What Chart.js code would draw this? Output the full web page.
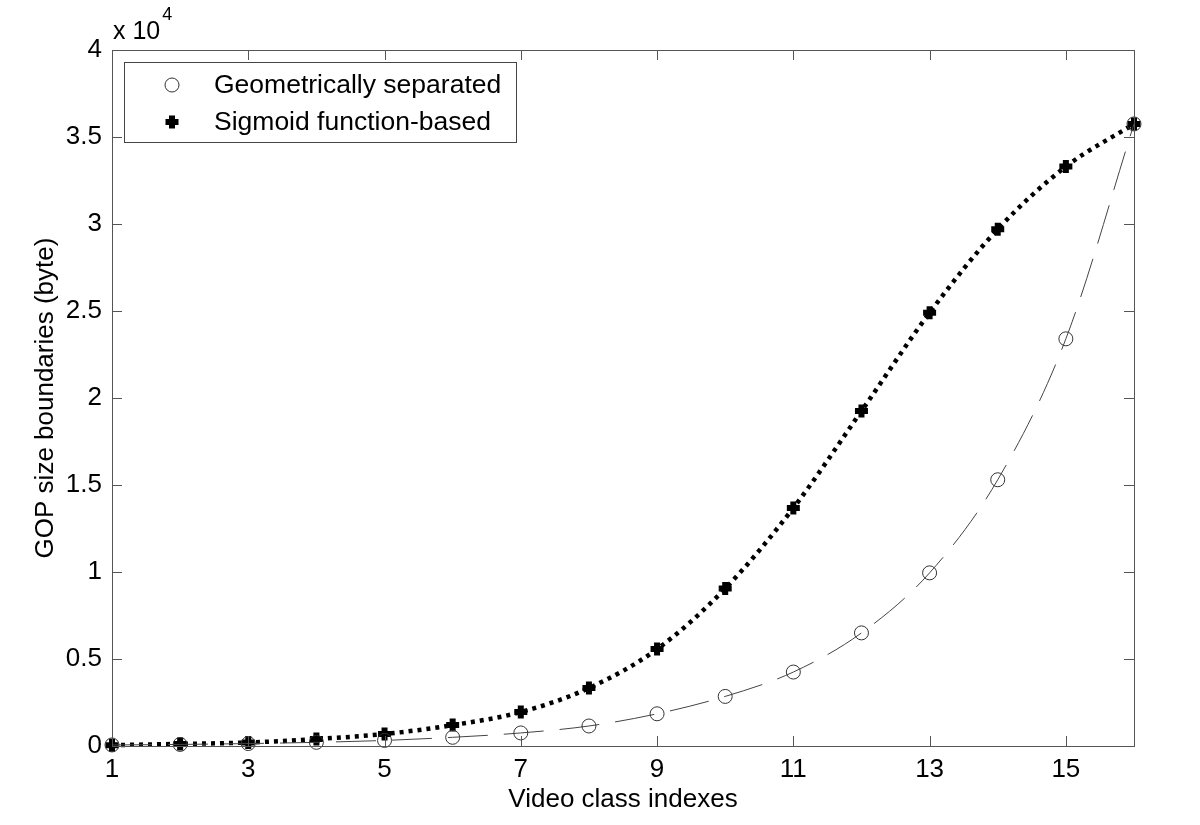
<!DOCTYPE html>
<html>
<head>
<meta charset="utf-8">
<title>GOP size boundaries</title>
<script src="https://cdn.jsdelivr.net/npm/chart.js@4/dist/chart.umd.min.js"></script>
<style>
  html, body { margin: 0; padding: 0; background: #fff; }
  #wrap { width: 1200px; height: 825px; }
</style>
</head>
<body>
<div id="wrap"><canvas id="gopChart" width="1200" height="825"></canvas></div>
<script>
// Video class indexes (x axis)
const classIdx = [1, 2, 3, 4, 5, 6, 7, 8, 9, 10, 11, 12, 13, 14, 15, 16];

// GOP size boundaries in bytes
const geometricVals = [60, 90, 140, 210, 320, 500, 750, 1150, 1850, 2850, 4250, 6500, 9950, 15300, 23400, 35750];
const sigmoidVals = [50, 120, 200, 400, 690, 1200, 1950, 3330, 5570, 9050, 13680, 19250, 24900, 29700, 33300, 35750];

// Tick labels
const xTickVals = [1, 3, 5, 7, 9, 11, 13, 15];
const yTickVals = [0, 5000, 10000, 15000, 20000, 25000, 30000, 35000, 40000];

const seriesNames = ['Geometrically separated', 'Sigmoid function-based'];

const FONT = '"Liberation Sans", Arial, Helvetica, sans-serif';
Chart.defaults.font.family = FONT;
Chart.defaults.font.size = 25;
Chart.defaults.color = '#000';

function toPoints(vals) {
  return classIdx.map((x, i) => ({ x: x, y: vals[i] }));
}

// Box, inward ticks, exponent label and legend, MATLAB style
const matlabFrame = {
  id: 'matlabFrame',
  afterDatasetsDraw(chart) {
    const ctx = chart.ctx;
    const area = chart.chartArea;
    const xs = chart.scales.x;
    const ys = chart.scales.y;
    const tickLen = 10;

    ctx.save();
    ctx.strokeStyle = '#555';
    ctx.lineWidth = 1;
    ctx.beginPath();
    xTickVals.forEach(v => {
      const px = Math.round(xs.getPixelForValue(v)) + 0.5;
      ctx.moveTo(px, area.bottom); ctx.lineTo(px, area.bottom - tickLen);
      ctx.moveTo(px, area.top); ctx.lineTo(px, area.top + tickLen);
    });
    yTickVals.forEach(v => {
      const py = Math.round(ys.getPixelForValue(v)) + 0.5;
      ctx.moveTo(area.left, py); ctx.lineTo(area.left + tickLen, py);
      ctx.moveTo(area.right, py); ctx.lineTo(area.right - tickLen, py);
    });
    ctx.stroke();
    ctx.strokeRect(Math.round(area.left) + 0.5, Math.round(area.top) + 0.5,
      Math.round(area.right - area.left), Math.round(area.bottom - area.top));

    // x 10^4 exponent
    ctx.fillStyle = '#000';
    ctx.textBaseline = 'alphabetic';
    ctx.textAlign = 'left';
    ctx.font = '25px ' + FONT;
    ctx.fillText('x 10', area.left + 1, 39);
    const w = ctx.measureText('x 10').width;
    ctx.font = '18px ' + FONT;
    ctx.fillText('4', area.left + 3 + w, 20);

    // legend
    const lx = 124, ly = 62, lw = 392, lh = 80;
    ctx.fillStyle = '#fff';
    ctx.fillRect(lx, ly, lw, lh);
    ctx.strokeStyle = '#444';
    ctx.strokeRect(lx + 0.5, ly + 0.5, lw, lh);
    chart.data.datasets.forEach((ds, i) => {
      const cy = ly + 23 + i * 37;
      ctx.save();
      ctx.strokeStyle = ds.pointBorderColor;
      ctx.fillStyle = ds.pointBackgroundColor;
      ctx.lineWidth = ds.pointBorderWidth;
      Chart.helpers.drawPoint(ctx, {
        pointStyle: ds.pointStyle,
        radius: ds.pointRadius,
        borderWidth: ds.pointBorderWidth,
        rotation: 0
      }, 172, cy);
      ctx.restore();
      ctx.fillStyle = '#000';
      ctx.font = '26.5px ' + FONT;
      ctx.textBaseline = 'middle';
      ctx.fillText(ds.label, 214, cy + 1);
    });
    ctx.restore();
  }
};

const ctx = document.getElementById('gopChart').getContext('2d');
new Chart(ctx, {
  type: 'line',
  data: {
    datasets: [{
      label: seriesNames[0],
      data: toPoints(geometricVals),
      borderColor: '#444',
      borderWidth: 1,
      borderDash: [40, 16],
      cubicInterpolationMode: 'monotone',
      pointStyle: 'circle',
      pointRadius: 7,
      pointBorderWidth: 1,
      pointBorderColor: '#333',
      pointBackgroundColor: 'rgba(0,0,0,0)',
      clip: false,
      fill: false
    }, {
      label: seriesNames[1],
      data: toPoints(sigmoidVals),
      borderColor: '#000',
      borderWidth: 4.5,
      borderDash: [4, 5],
      cubicInterpolationMode: 'monotone',
      pointStyle: 'cross',
      pointRadius: 6.5,
      pointBorderWidth: 6,
      pointBorderColor: '#000',
      pointBackgroundColor: '#000',
      clip: false,
      fill: false
    }]
  },
  options: {
    responsive: false,
    animation: false,
    events: [],
    layout: { padding: { left: 0, top: 50, right: 66, bottom: 0 } },
    plugins: {
      legend: { display: false },
      tooltip: { enabled: false }
    },
    scales: {
      x: {
        type: 'linear',
        min: 1,
        max: 16,
        afterBuildTicks: scale => { scale.ticks = xTickVals.map(v => ({ value: v })); },
        afterFit: scale => { scale.height = 79; },
        grid: { drawOnChartArea: false, drawTicks: false },
        border: { display: false },
        ticks: { padding: 8, font: { size: 26 }, color: '#000' },
        title: {
          display: true,
          text: 'Video class indexes',
          font: { size: 26 },
          color: '#000',
          padding: { top: 0, bottom: 10 }
        }
      },
      y: {
        type: 'linear',
        min: 0,
        max: 40000,
        afterBuildTicks: scale => { scale.ticks = yTickVals.map(v => ({ value: v })); },
        afterFit: scale => { scale.width = 112; },
        grid: { drawOnChartArea: false, drawTicks: false },
        border: { display: false },
        ticks: {
          padding: 10,
          font: { size: 26 },
          color: '#000',
          callback: v => String(v / 10000)
        },
        title: {
          display: true,
          text: 'GOP size boundaries (byte)',
          font: { size: 26 },
          color: '#000',
          padding: { top: 30, bottom: 0 }
        }
      }
    }
  },
  plugins: [matlabFrame]
});
</script>
</body>
</html>
